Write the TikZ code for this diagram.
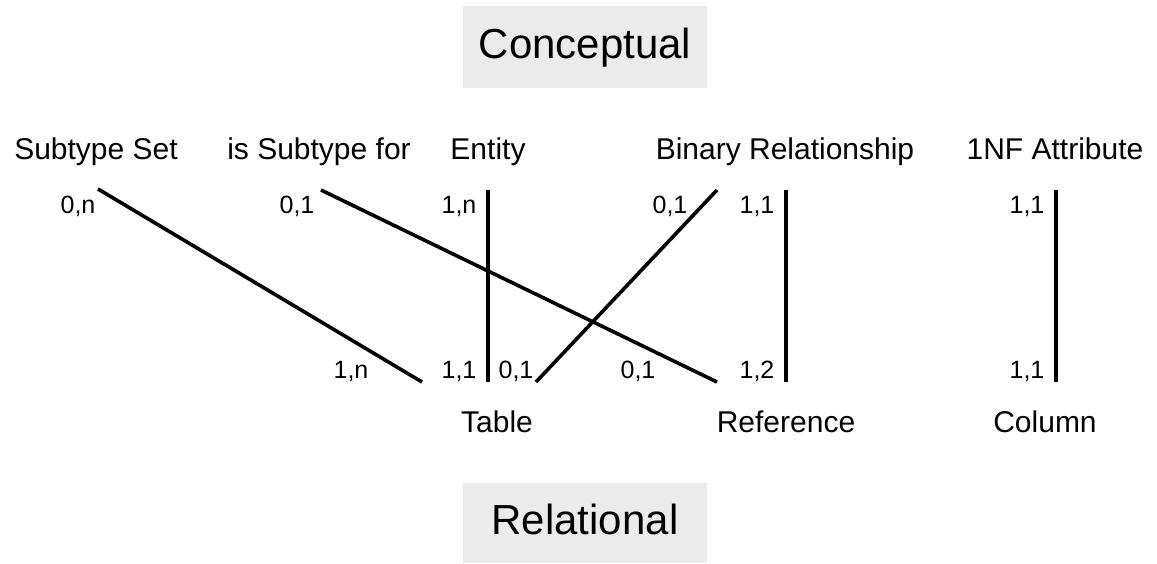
\documentclass[tikz,border=0pt]{standalone}
\usepackage{fontspec}
\setmainfont{Liberation Sans}
\usetikzlibrary{positioning}

\begin{document}
\begin{tikzpicture}[x=1pt,y=-1pt,every node/.style={inner sep=0pt},
  layer/.style={fill=black!8,minimum width=244pt,minimum height=82pt,
    font=\fontsize{42}{50}\selectfont,text height=31pt,text depth=9pt},
  concept/.style={anchor=base,font=\fontsize{30}{36}\selectfont},
  card/.style={anchor=base,font=\fontsize{25}{30}\selectfont},
  link/.style={line width=3.6pt}]
  \useasboundingbox (0,0) rectangle (1157,563);
  \node[layer] (concl) at (585,47) {Conceptual};
  \node[layer,minimum height=80pt] (rell) at (585,523) {Relational};
  % conceptual side
  \node[concept] (subset) at (96,159) {Subtype Set};
  \node[concept] (issub) at (319,159) {is Subtype for};
  \node[concept] (entity) at (488,159) {Entity};
  \node[concept] (binrel) at (785,159) {Binary Relationship};
  \node[concept] (attr) at (1055,159) {1NF Attribute};
  % relational side
  \node[concept] (table) at (497,432) {Table};
  \node[concept] (ref) at (786,432) {Reference};
  \node[concept] (col) at (1045,432) {Column};
  % line ends
  \coordinate (subset-c) at (98,189);   \coordinate (subset-r) at (422,382);
  \coordinate (issub-c) at (321,190);   \coordinate (issub-r) at (717,382);
  \coordinate (entity-c) at (488,190);  \coordinate (entity-r) at (488,382);
  \coordinate (binrel-c) at (717,190);  \coordinate (binrel-r) at (536,382);
  \coordinate (binref-c) at (786,190);  \coordinate (binref-r) at (786,382);
  \coordinate (attr-c) at (1056,190);   \coordinate (attr-r) at (1056,382);
  \draw[link] (subset-c) -- (subset-r);
  \draw[link] (issub-c) -- (issub-r);
  \draw[link] (entity-c) -- (entity-r);
  \draw[link] (binrel-c) -- (binrel-r);
  \draw[link] (binref-c) -- (binref-r);
  \draw[link] (attr-c) -- (attr-r);
  % cardinalities
  \node[card] (k1) at (78,213) {0,n};
  \node[card] (k2) at (297,213) {0,1};
  \node[card] (k3) at (459,213) {1,n};
  \node[card] (k4) at (670,213) {0,1};
  \node[card] (k5) at (757,213) {1,1};
  \node[card] (k6) at (1027,213) {1,1};
  \node[card] (k7) at (351,378) {1,n};
  \node[card] (k8) at (459,378) {1,1};
  \node[card] (k9) at (516,378) {0,1};
  \node[card] (k10) at (638,378) {0,1};
  \node[card] (k11) at (757,378) {1,2};
  \node[card] (k12) at (1027,378) {1,1};
\end{tikzpicture}
\end{document}
